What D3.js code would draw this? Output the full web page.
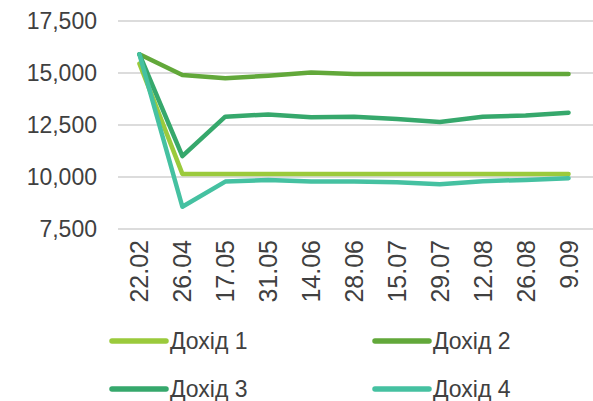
<!DOCTYPE html>
<html>
<head>
<meta charset="utf-8">
<script src="https://cdn.jsdelivr.net/npm/d3@7"></script>
<style>
  body { margin: 0; background: #fff; }
  text { font-family: "Liberation Sans", Arial, sans-serif; fill: #404040; }
</style>
</head>
<body>
<svg width="593" height="401"></svg>
<script>
// data
var dates = ["22.02", "26.04", "17.05", "31.05", "14.06", "28.06", "15.07", "29.07", "12.08", "26.08", "9.09"];
var dokhid1 = [15450, 10150, 10150, 10150, 10150, 10150, 10150, 10150, 10150, 10150, 10150];
var dokhid2 = [15900, 14900, 14750, 14870, 15020, 14950, 14950, 14950, 14950, 14950, 14950];
var dokhid3 = [15900, 11000, 12900, 13010, 12870, 12900, 12790, 12640, 12900, 12960, 13090];
var dokhid4 = [15900, 8570, 9780, 9860, 9780, 9780, 9750, 9650, 9800, 9860, 9940];
var yTicks = [7500, 10000, 12500, 15000, 17500];
var seriesNames = ["Дохід 1", "Дохід 2", "Дохід 3", "Дохід 4"];
var colors = ["#9bca3c", "#62a83a", "#36a86c", "#45c1a1"];

var series = [dokhid1, dokhid2, dokhid3, dokhid4];

var svg = d3.select("svg");

var xScale = d3.scaleBand()
    .domain(dates)
    .range([118, 590]);
var yScale = d3.scaleLinear()
    .domain([7500, 17500])
    .range([229, 21]);

// gridlines
svg.append("g")
    .selectAll("line")
    .data(yTicks)
    .enter()
    .append("line")
    .attr("x1", 118)
    .attr("x2", 593)
    .attr("y1", function(d) { return yScale(d); })
    .attr("y2", function(d) { return yScale(d); })
    .attr("stroke", "#d0d0d0")
    .attr("stroke-width", 1.5);

// y axis labels
var fmt = d3.format(",");
svg.append("g")
    .selectAll("text")
    .data(yTicks)
    .enter()
    .append("text")
    .attr("x", 97)
    .attr("y", function(d) { return yScale(d); })
    .attr("dy", "0.35em")
    .attr("text-anchor", "end")
    .style("font-size", "23px")
    .text(function(d) { return fmt(d); });

// x labels, rotated
svg.append("g")
    .selectAll("text")
    .data(dates)
    .enter()
    .append("text")
    .attr("transform", function(d) {
        var x = xScale(d) + xScale.bandwidth() / 2;
        return "translate(" + (x + 9) + "," + 240 + ") rotate(-90)";
    })
    .attr("text-anchor", "end")
    .style("font-size", "25px")
    .text(function(d) { return d; });

// lines
var line = d3.line()
    .x(function(d, i) { return xScale(dates[i]) + xScale.bandwidth() / 2; })
    .y(function(d) { return yScale(d); });

svg.append("g")
    .selectAll("path")
    .data(series)
    .enter()
    .append("path")
    .attr("d", line)
    .attr("fill", "none")
    .attr("stroke", function(d, i) { return colors[i]; })
    .attr("stroke-width", 4.5)
    .attr("stroke-linejoin", "round")
    .attr("stroke-linecap", "round");

// legend
var legend = svg.append("g")
    .selectAll("g")
    .data(seriesNames)
    .enter()
    .append("g")
    .attr("transform", function(d, i) {
        return "translate(" + (i % 2 == 0 ? 112 : 375) + "," + (i < 2 ? 341 : 389) + ")";
    });

legend.append("line")
    .attr("x1", 0)
    .attr("x2", 54)
    .attr("stroke", function(d, i) { return colors[i]; })
    .attr("stroke-width", 5.5)
    .attr("stroke-linecap", "round");

legend.append("text")
    .attr("x", 58)
    .attr("dy", "0.35em")
    .style("font-size", "23px")
    .text(function(d) { return d; });
</script>
</body>
</html>
